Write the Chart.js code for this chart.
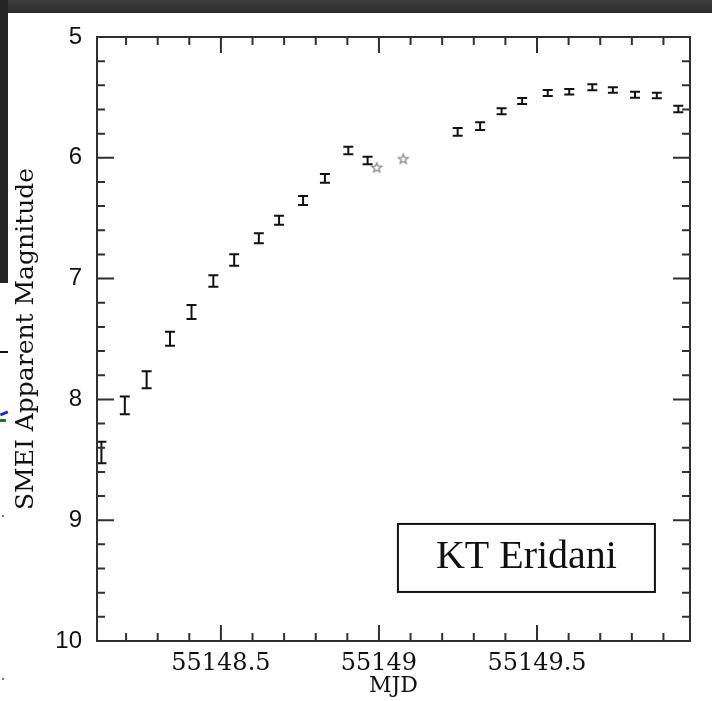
<!DOCTYPE html>
<html>
<head>
<meta charset="utf-8">
<script src="https://cdn.jsdelivr.net/npm/chart.js@4.4.0/dist/chart.umd.min.js"></script>
<style>
  html, body { margin: 0; padding: 0; background: #fff; }
  body { width: 712px; height: 701px; position: relative; overflow: hidden; }
  #topBand { position: absolute; left: 0; top: 0; width: 712px; height: 13px; background: linear-gradient(#3d3d3d, #2b2b2b); }
  #leftBand { position: absolute; left: 0; top: 0; width: 8px; height: 283px; background: #242424; }
  .mark { position: absolute; }
  #wrap { position: absolute; left: 0; top: 0; width: 712px; height: 701px; }
</style>
</head>
<body>
<div id="topBand"></div>
<div id="leftBand"></div>
<div class="mark" style="left:0;top:351px;width:8px;height:1.5px;background:#111"></div>
<div class="mark" style="left:0;top:412px;width:8px;height:2.5px;background:#1a2bd6;transform:rotate(-22deg)"></div>
<div class="mark" style="left:0;top:419px;width:6px;height:2.5px;background:#1c7a1c"></div>
<div class="mark" style="left:2px;top:515px;width:1.5px;height:1.5px;background:#777"></div>
<div class="mark" style="left:2px;top:678px;width:1.5px;height:1.5px;background:#777"></div>
<div id="wrap"><canvas id="chart"></canvas></div>
<script>
// SMEI light curve of KT Eridani (magnitudes)
const mjd = [
  55148.122, 55148.196, 55148.265, 55148.339, 55148.407, 55148.476,
  55148.542, 55148.620, 55148.684, 55148.760, 55148.829, 55148.903,
  55148.964, 55149.249, 55149.320, 55149.388, 55149.453, 55149.534,
  55149.602, 55149.675, 55149.740, 55149.810, 55149.879, 55149.947
];
const mag = [
  8.44, 8.05, 7.837, 7.497, 7.276, 7.02,
  6.846, 6.666, 6.517, 6.353, 6.17, 5.94,
  6.022, 5.786, 5.737, 5.615, 5.53, 5.464,
  5.453, 5.416, 5.439, 5.478, 5.484, 5.596
];
const magErr = [
  0.089, 0.073, 0.071, 0.058, 0.058, 0.048,
  0.047, 0.041, 0.038, 0.037, 0.036, 0.031,
  0.031, 0.032, 0.032, 0.025, 0.024, 0.025,
  0.022, 0.024, 0.022, 0.025, 0.023, 0.027
];
const starMjd = [55148.993, 55149.077];
const starMag = [6.083, 6.012];
const xTickValues = [55148.5, 55149, 55149.5];
const yTickValues = [5, 6, 7, 8, 9, 10];
const boxLabel = 'KT Eridani';

function makeStar(r, color) {
    const s = Math.ceil(r * 2 + 4);
    const c = document.createElement('canvas');
    c.width = c.height = s;
    const g = c.getContext('2d');
    g.strokeStyle = color;
    g.lineWidth = 1.4;
    g.beginPath();
    for (let i = 0; i < 10; i++) {
        const rr = i % 2 ? r * 0.45 : r;
        const a = -Math.PI / 2 + i * Math.PI / 5;
        const px = s / 2 + rr * Math.cos(a), py = s / 2 + rr * Math.sin(a);
        if (i) g.lineTo(px, py); else g.moveTo(px, py);
    }
    g.closePath();
    g.stroke();
    return c;
}

// vertical error bars with caps
const errorBars = {
    id: 'errorBars',
    afterDatasetsDraw(chart) {
        const { ctx, scales: { x, y } } = chart;
        ctx.save();
        ctx.strokeStyle = '#111';
        ctx.lineWidth = 2;
        ctx.beginPath();
        mjd.forEach((t, i) => {
            const px = x.getPixelForValue(t);
            const y1 = y.getPixelForValue(mag[i] - magErr[i]);
            const y2 = y.getPixelForValue(mag[i] + magErr[i]);
            ctx.moveTo(px, y1); ctx.lineTo(px, y2);
            ctx.moveTo(px - 5, y1); ctx.lineTo(px + 5, y1);
            ctx.moveTo(px - 5, y2); ctx.lineTo(px + 5, y2);
        });
        ctx.stroke();
        ctx.restore();
    }
};

// box frame with inward ticks on all four sides
const frame = {
    id: 'frame',
    afterDatasetsDraw(chart) {
        const { ctx, chartArea: a, scales: { x, y } } = chart;
        ctx.save();
        ctx.strokeStyle = '#303030';
        ctx.lineWidth = 2;
        ctx.strokeRect(a.left, a.top, a.right - a.left, a.bottom - a.top);
        ctx.beginPath();
        for (let k = 1; k < 25; k++) {
            const py = y.getPixelForValue(5 + k * 0.2);
            const len = k % 5 === 0 ? 17 : 8;
            ctx.moveTo(a.left, py); ctx.lineTo(a.left + len, py);
            ctx.moveTo(a.right, py); ctx.lineTo(a.right - len, py);
        }
        for (let k = 1; k <= 18; k++) {
            const px = x.getPixelForValue(55148.1 + k * 0.1);
            const len = (k + 1) % 5 === 0 ? 16 : 8;
            ctx.moveTo(px, a.bottom); ctx.lineTo(px, a.bottom - len);
            ctx.moveTo(px, a.top); ctx.lineTo(px, a.top + len);
        }
        ctx.stroke();
        ctx.restore();
    }
};

// "KT Eridani" label box
const labelBox = {
    id: 'labelBox',
    afterDatasetsDraw(chart) {
        const { ctx, scales: { x, y } } = chart;
        const l = x.getPixelForValue(55149.060), r = x.getPixelForValue(55149.873);
        const t = y.getPixelForValue(9.031), b = y.getPixelForValue(9.594);
        ctx.save();
        ctx.strokeStyle = '#111';
        ctx.lineWidth = 2;
        ctx.strokeRect(l, t, r - l, b - t);
        ctx.fillStyle = '#111';
        ctx.font = "40px 'Liberation Serif'";
        ctx.textAlign = 'center';
        ctx.textBaseline = 'alphabetic';
        ctx.fillText(boxLabel, (l + r) / 2, t + 44);
        ctx.restore();
    }
};

new Chart(document.getElementById('chart'), {
    type: 'scatter',
    data: {
        datasets: [
            {
                label: 'SMEI',
                data: mjd.map((t, i) => ({ x: t, y: mag[i] })),
                pointRadius: 0,
                showLine: false,
            },
            {
                label: 'other',
                data: starMjd.map((t, i) => ({ x: t, y: starMag[i] })),
                pointStyle: makeStar(5, '#8c8c8c'),
                pointRadius: 5,
                showLine: false,
            },
        ],
    },
    options: {
        responsive: true,
        maintainAspectRatio: false,
        animation: false,
        layout: { padding: { top: 37, right: 22, left: 0, bottom: 0 } },
        plugins: { legend: { display: false }, tooltip: { enabled: false } },
        scales: {
            x: {
                type: 'linear',
                min: 55148.108,
                max: 55149.984,
                grid: { display: false, drawTicks: false },
                border: { display: false },
                afterBuildTicks: s => { s.ticks = xTickValues.map(v => ({ value: v })); },
                afterFit: s => { s.height = 60; },
                ticks: {
                    color: '#111',
                    padding: 8,
                    maxRotation: 0,
                    font: { family: "'DejaVu Serif'", size: 24 },
                    callback: v => String(v),
                },
                title: {
                    display: true,
                    text: 'MJD',
                    color: '#111',
                    padding: { top: 0, bottom: 2 },
                    font: { family: "'DejaVu Serif'", size: 22 },
                },
            },
            y: {
                type: 'linear',
                reverse: true,
                min: 5,
                max: 10,
                grid: { display: false, drawTicks: false },
                border: { display: false },
                afterBuildTicks: s => { s.ticks = yTickValues.map(v => ({ value: v })); },
                afterFit: s => { s.width = 97; },
                ticks: {
                    color: '#111',
                    padding: 15,
                    font: { family: "'Liberation Sans'", size: 24 },
                    callback: v => String(v),
                },
                title: {
                    display: true,
                    text: 'SMEI Apparent Magnitude',
                    color: '#111',
                    padding: { top: 11, bottom: 0 },
                    font: { family: "'DejaVu Serif'", size: 25 },
                },
            },
        },
    },
    plugins: [errorBars, frame, labelBox],
});
</script>
</body>
</html>
